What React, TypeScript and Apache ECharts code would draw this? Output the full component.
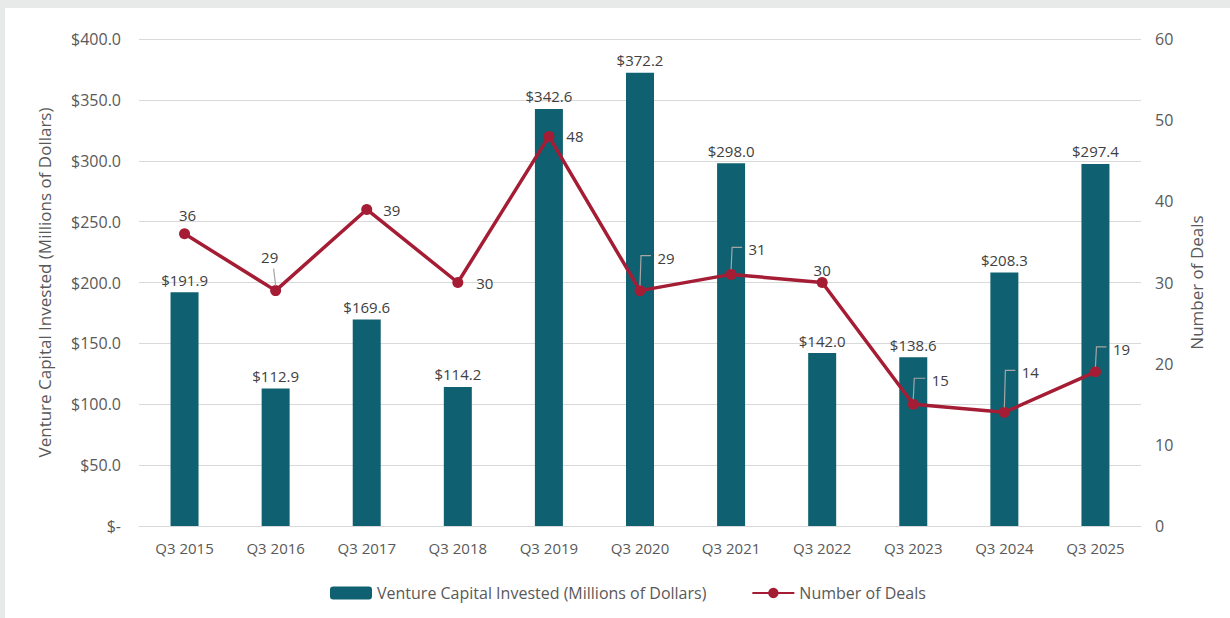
import React, { useEffect, useRef } from "react";
import * as echarts from "echarts";

const categories = ["Q3 2015", "Q3 2016", "Q3 2017", "Q3 2018", "Q3 2019", "Q3 2020", "Q3 2021", "Q3 2022", "Q3 2023", "Q3 2024", "Q3 2025"];
const vcInvested = [191.9, 112.9, 169.6, 114.2, 342.6, 372.2, 298.0, 142.0, 138.6, 208.3, 297.4];
const dealCounts = [36, 29, 39, 30, 48, 29, 31, 30, 15, 14, 19];
// label placement for deal labels: [dx, dy, leader kind] 0 none, 1 slanted, 2 elbow
const dealLabelOffsets: [number, number, number][] = [
  [3, -19, 0],
  [-6, -34, 1],
  [25, 1, 0],
  [27, 0, 0],
  [26, 0, 0],
  [26, -33, 2],
  [26, -25, 2],
  [0, -13, 0],
  [27, -24, 2],
  [26, -40, 2],
  [26, -23, 2],
];

const FONT = "'Open Sans', 'Liberation Sans', sans-serif";

export default function App() {
  const ref = useRef<HTMLDivElement>(null);
  useEffect(() => {
    document.body.style.margin = "0";
    document.body.style.background = "#e8e9e9";
    const chart = echarts.init(ref.current!, null, { renderer: "svg" });
    const dealData = dealCounts.map((v, i) => ({
      value: v,
      label: {
        position: "inside",
        offset: [dealLabelOffsets[i][0], dealLabelOffsets[i][1]],
      },
    }));
    const bgRect = {
      type: "rect",
      id: "bg",
      left: 5,
      top: 8,
      shape: { width: 1225, height: 610 },
      style: { fill: "#ffffff" },
      z: -10,
      silent: true,
    };
    chart.setOption({
      animation: false,
      backgroundColor: "transparent",
      textStyle: { fontFamily: FONT },
      graphic: [bgRect],
      grid: { left: 139, right: 89, top: 39, bottom: 92, containLabel: false },
      legend: {
        left: 325,
        top: 580,
        itemWidth: 42,
        itemHeight: 13,
        itemGap: 45,
        textStyle: { fontFamily: FONT, fontSize: 16, color: "#595959" },
        data: ["Venture Capital Invested (Millions of Dollars)", "Number of Deals"],
      },
      xAxis: {
        type: "category",
        data: categories,
        axisLine: { lineStyle: { color: "#d9d9d9" } },
        axisTick: { show: false },
        axisLabel: { color: "#595959", fontSize: 15, margin: 14, fontFamily: FONT },
      },
      yAxis: [
        {
          type: "value",
          min: 0,
          max: 400,
          interval: 50,
          name: "Venture Capital Invested (Millions of Dollars)",
          nameLocation: "middle",
          nameGap: 86,
          nameTextStyle: { fontSize: 17, color: "#595959", fontFamily: FONT },
          axisLabel: {
            color: "#595959",
            fontSize: 16,
            margin: 18,
            fontFamily: FONT,
            formatter: (v: number) => (v === 0 ? "$-" : "$" + v.toFixed(1)),
          },
          splitLine: { lineStyle: { color: "#d9d9d9" } },
          axisLine: { show: false },
          axisTick: { show: false },
        },
        {
          type: "value",
          min: 0,
          max: 60,
          interval: 10,
          name: "Number of Deals",
          nameLocation: "middle",
          nameGap: 47,
          nameRotate: 90,
          nameTextStyle: { fontSize: 17, color: "#595959", fontFamily: FONT },
          axisLabel: { color: "#595959", fontSize: 16, margin: 14, fontFamily: FONT },
          splitLine: { show: false },
          axisLine: { show: false },
          axisTick: { show: false },
        },
      ],
      series: [
        {
          name: "Venture Capital Invested (Millions of Dollars)",
          type: "bar",
          data: vcInvested,
          barWidth: 28,
          itemStyle: { color: "#0f6070" },
          label: {
            show: true,
            position: "top",
            distance: 5,
            color: "#404040",
            fontSize: 15,
            fontFamily: FONT,
            formatter: (p: any) => "$" + Number(p.value).toFixed(1),
          },
        },
        {
          name: "Number of Deals",
          type: "line",
          yAxisIndex: 1,
          data: dealData,
          symbol: "circle",
          symbolSize: 11,
          lineStyle: { color: "#a51d35", width: 3.5 },
          itemStyle: { color: "#a51d35" },
          label: {
            show: true,
            color: "#404040",
            fontSize: 15,
            fontFamily: FONT,
          },
          z: 5,
        },
      ],
    });
    // leader lines computed from the chart's own scales
    const leaders: any[] = [];
    dealCounts.forEach((v, i) => {
      const [dx, dy, kind] = dealLabelOffsets[i];
      if (!kind) return;
      const p = chart.convertToPixel({ xAxisIndex: 0, yAxisIndex: 1 }, [i, v]) as number[];
      const px = p[0];
      const py = p[1];
      let pts: number[][];
      if (kind === 1) {
        pts = [
          [px - 2, py + dy + 12],
          [px, py - 5],
        ];
      } else {
        pts = [
          [px, py - 5],
          [px + 1, py + dy - 2],
          [px + dx - 15, py + dy - 2],
        ];
      }
      leaders.push({
        type: "polyline",
        shape: { points: pts },
        style: { stroke: "#a6a6a6", lineWidth: 1.2, fill: "none" },
        z: 20,
        silent: true,
      });
    });
    chart.setOption({ graphic: [bgRect, ...leaders] }, { replaceMerge: ["graphic"] });
    return () => chart.dispose();
  }, []);
  return <div ref={ref} style={{ width: 1230, height: 618 }} />;
}
